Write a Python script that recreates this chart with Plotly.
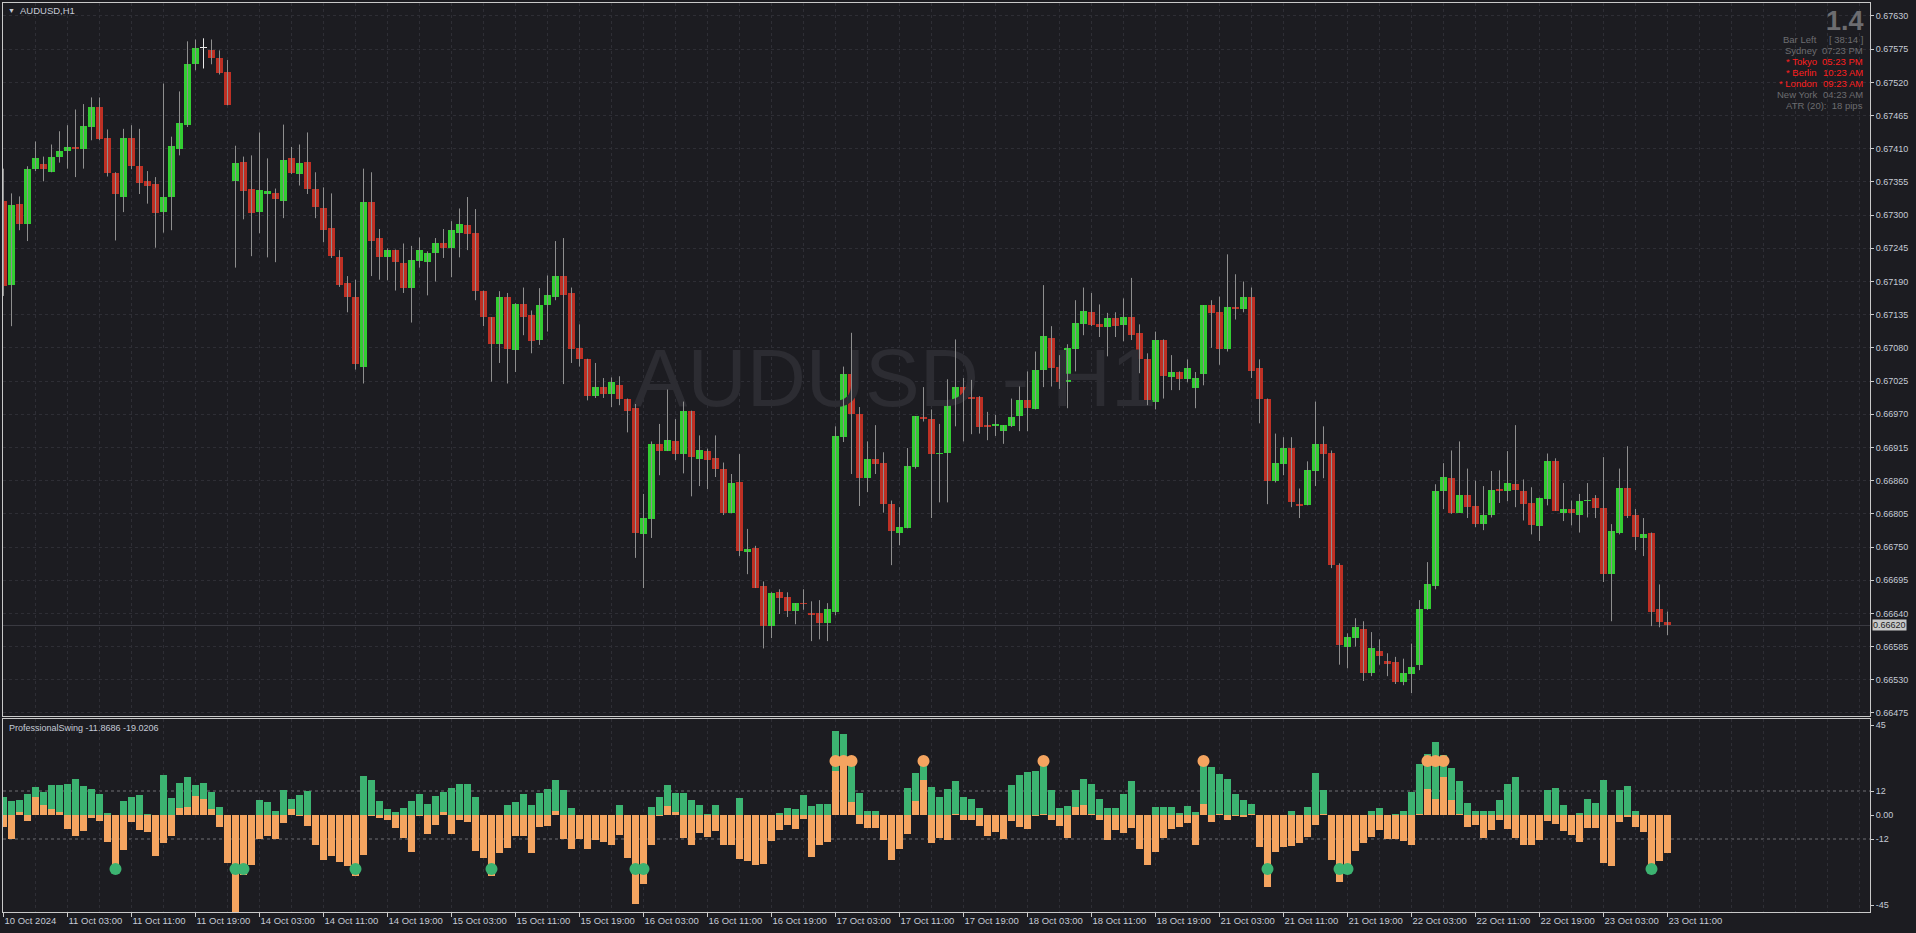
import plotly.graph_objects as go

# ---------------- data ----------------
open_ = [0.67323,0.67185,0.67318,0.67286,0.67376,0.67384,0.67371,0.67396,0.67406,0.67413,
0.67409,0.67446,0.67479,0.67427,0.67369,0.67330,0.67427,0.67382,0.67356,0.67351,
0.67305,0.67330,0.67410,0.67449,0.67550,0.67577,0.67573,0.67561,0.67537,0.67356,
0.67388,0.67343,0.67305,0.67335,0.67336,0.67324,0.67394,0.67368,0.67388,0.67344,
0.67311,0.67278,0.67230,0.67187,0.67165,0.67049,0.67321,0.67262,0.67230,0.67243,
0.67220,0.67180,0.67224,0.67222,0.67238,0.67253,0.67246,0.67271,0.67283,0.67271,
0.67175,0.67131,0.67086,0.67165,0.67076,0.67152,0.67135,0.67093,0.67151,0.67165,
0.67199,0.67171,0.67080,0.67062,0.67001,0.67016,0.67004,0.67018,0.66996,0.66980,
0.66771,0.66796,0.66921,0.66909,0.66925,0.66904,0.66976,0.66896,0.66909,0.66897,
0.66880,0.66806,0.66857,0.66741,0.66748,0.66685,0.66619,0.66675,0.66667,0.66644,
0.66657,0.66641,0.66641,0.66624,0.66643,0.66932,0.67036,0.66971,0.66864,0.66896,
0.66889,0.66821,0.66773,0.66781,0.66882,0.66965,0.66962,0.66904,0.66905,0.66987,
0.67016,0.66998,0.66998,0.66952,0.66950,0.66943,0.66950,0.66967,0.66993,0.66978,
0.67043,0.67096,0.67049,0.67024,0.67078,0.67119,0.67139,0.67119,0.67114,0.67129,
0.67118,0.67131,0.67105,0.67062,0.66990,0.67093,0.67031,0.67040,0.67028,0.67013,
0.67036,0.67151,0.67139,0.67078,0.67147,0.67144,0.67165,0.67046,0.66996,0.66859,
0.66887,0.66914,0.66821,0.66819,0.66876,0.66921,0.66905,0.66721,0.66584,0.66599,
0.66615,0.66541,0.66577,0.66561,0.66559,0.66526,0.66539,0.66555,0.66648,0.66685,
0.66843,0.66864,0.66807,0.66836,0.66818,0.66788,0.66803,0.66846,0.66843,0.66854,
0.66843,0.66823,0.66785,0.66829,0.66892,0.66807,0.66813,0.66803,0.66826,0.66831,
0.66814,0.66705,0.66773,0.66847,0.66803,0.66765,0.66773,0.66647,0.66626]

high = [0.67377,0.67336,0.67331,0.67381,0.67422,0.67397,0.67417,0.67439,0.67449,0.67475,
0.67484,0.67495,0.67495,0.67442,0.67371,0.67443,0.67449,0.67443,0.67373,0.67363,
0.67518,0.67430,0.67505,0.67588,0.67591,0.67593,0.67591,0.67573,0.67557,0.67415,
0.67397,0.67399,0.67437,0.67394,0.67344,0.67450,0.67413,0.67417,0.67437,0.67371,
0.67346,0.67336,0.67242,0.67199,0.67193,0.67377,0.67371,0.67277,0.67245,0.67243,
0.67253,0.67249,0.67263,0.67240,0.67262,0.67277,0.67290,0.67311,0.67330,0.67310,
0.67175,0.67131,0.67174,0.67171,0.67154,0.67180,0.67142,0.67179,0.67200,0.67257,
0.67262,0.67180,0.67119,0.67062,0.67055,0.67030,0.67031,0.67033,0.66996,0.66987,
0.66838,0.66925,0.66954,0.67011,0.66962,0.66991,0.66976,0.66935,0.66913,0.66935,
0.66890,0.66871,0.66904,0.66780,0.66752,0.66693,0.66675,0.66680,0.66675,0.66657,
0.66680,0.66660,0.66662,0.66657,0.66950,0.67049,0.67105,0.66982,0.66925,0.66952,
0.66907,0.66827,0.66816,0.66914,0.66967,0.67015,0.66978,0.66954,0.67028,0.67094,
0.67030,0.67027,0.67000,0.66974,0.66969,0.66952,0.66996,0.67016,0.67041,0.67074,
0.67184,0.67116,0.67068,0.67086,0.67159,0.67180,0.67171,0.67152,0.67138,0.67139,
0.67162,0.67196,0.67119,0.67071,0.67107,0.67094,0.67068,0.67041,0.67061,0.67040,
0.67151,0.67159,0.67165,0.67235,0.67202,0.67190,0.67180,0.67061,0.66996,0.66938,
0.66932,0.66932,0.66847,0.66892,0.66991,0.66950,0.66910,0.66723,0.66607,0.66632,
0.66627,0.66609,0.66597,0.66574,0.66568,0.66565,0.66590,0.66662,0.66725,0.66854,
0.66889,0.66910,0.66925,0.66880,0.66860,0.66851,0.66876,0.66877,0.66909,0.66952,
0.66862,0.66849,0.66832,0.66905,0.66897,0.66856,0.66827,0.66838,0.66856,0.66836,
0.66899,0.66788,0.66880,0.66917,0.66813,0.66798,0.66774,0.66688,0.66643]

low = [0.67166,0.67116,0.67275,0.67257,0.67373,0.67356,0.67371,0.67387,0.67377,0.67363,
0.67377,0.67424,0.67424,0.67364,0.67258,0.67305,0.67376,0.67335,0.67319,0.67246,
0.67271,0.67275,0.67399,0.67446,0.67540,0.67543,0.67550,0.67533,0.67482,0.67213,
0.67293,0.67232,0.67270,0.67230,0.67222,0.67295,0.67368,0.67349,0.67335,0.67295,
0.67255,0.67229,0.67181,0.67139,0.67044,0.67021,0.67199,0.67193,0.67192,0.67175,
0.67171,0.67122,0.67213,0.67167,0.67190,0.67229,0.67197,0.67230,0.67242,0.67159,
0.67116,0.67024,0.67055,0.67021,0.67040,0.67101,0.67071,0.67085,0.67107,0.67159,
0.67020,0.67055,0.67049,0.66993,0.66997,0.66997,0.66982,0.66985,0.66940,0.66732,
0.66682,0.66765,0.66869,0.66909,0.66894,0.66872,0.66834,0.66851,0.66846,0.66866,
0.66803,0.66806,0.66735,0.66705,0.66682,0.66582,0.66599,0.66639,0.66634,0.66622,
0.66646,0.66594,0.66597,0.66594,0.66637,0.66924,0.66871,0.66818,0.66841,0.66871,
0.66807,0.66720,0.66753,0.66781,0.66880,0.66958,0.66798,0.66824,0.66824,0.66950,
0.66925,0.66937,0.66938,0.66927,0.66934,0.66921,0.66949,0.66942,0.66942,0.66978,
0.67015,0.67016,0.67012,0.66980,0.67041,0.67101,0.67116,0.67098,0.67066,0.67098,
0.67091,0.67093,0.67038,0.66985,0.66978,0.66996,0.67010,0.67010,0.67023,0.66980,
0.67018,0.67080,0.67052,0.67074,0.67127,0.67139,0.67030,0.66955,0.66821,0.66857,
0.66869,0.66816,0.66798,0.66819,0.66851,0.66864,0.66715,0.66555,0.66549,0.66585,
0.66528,0.66536,0.66555,0.66536,0.66523,0.66521,0.66508,0.66546,0.66646,0.66680,
0.66813,0.66805,0.66807,0.66798,0.66783,0.66778,0.66799,0.66823,0.66826,0.66816,
0.66794,0.66771,0.66760,0.66819,0.66810,0.66793,0.66786,0.66774,0.66799,0.66798,
0.66692,0.66627,0.66771,0.66798,0.66745,0.66735,0.66619,0.66617,0.66604]

close = [0.67182,0.67316,0.67286,0.67377,0.67394,0.67376,0.67397,0.67407,0.67413,0.67409,
0.67447,0.67479,0.67426,0.67369,0.67335,0.67427,0.67382,0.67353,0.67349,0.67303,
0.67330,0.67415,0.67452,0.67550,0.67577,0.67577,0.67560,0.67535,0.67482,0.67386,
0.67340,0.67303,0.67341,0.67340,0.67326,0.67391,0.67369,0.67386,0.67344,0.67313,
0.67275,0.67232,0.67185,0.67164,0.67053,0.67321,0.67257,0.67230,0.67243,0.67222,
0.67180,0.67225,0.67243,0.67238,0.67253,0.67246,0.67275,0.67285,0.67268,0.67174,
0.67131,0.67086,0.67165,0.67078,0.67152,0.67131,0.67091,0.67151,0.67168,0.67199,
0.67168,0.67078,0.67062,0.67000,0.67016,0.67003,0.67023,0.66995,0.66976,0.66773,
0.66798,0.66921,0.66909,0.66927,0.66904,0.66976,0.66899,0.66910,0.66894,0.66879,
0.66807,0.66856,0.66743,0.66746,0.66682,0.66619,0.66674,0.66666,0.66644,0.66657,
0.66656,0.66637,0.66624,0.66647,0.66934,0.67036,0.66971,0.66864,0.66896,0.66887,
0.66821,0.66777,0.66783,0.66885,0.66967,0.66962,0.66904,0.66905,0.66987,0.67015,
0.66995,0.66995,0.66949,0.66949,0.66954,0.66952,0.66965,0.66993,0.66980,0.67044,
0.67099,0.67046,0.67024,0.67080,0.67122,0.67141,0.67118,0.67114,0.67129,0.67116,
0.67131,0.67101,0.67061,0.66990,0.67093,0.67033,0.67040,0.67028,0.67046,0.67030,
0.67151,0.67138,0.67078,0.67147,0.67144,0.67165,0.67041,0.66995,0.66859,0.66890,
0.66914,0.66824,0.66818,0.66877,0.66921,0.66904,0.66720,0.66588,0.66601,0.66617,
0.66541,0.66582,0.66569,0.66556,0.66526,0.66541,0.66552,0.66648,0.66688,0.66843,
0.66866,0.66806,0.66836,0.66816,0.66788,0.66803,0.66844,0.66843,0.66856,0.66844,
0.66821,0.66786,0.66832,0.66892,0.66810,0.66813,0.66806,0.66826,0.66827,0.66814,
0.66705,0.66777,0.66847,0.66801,0.66766,0.66771,0.66643,0.66626,0.66620]

# ProfessionalSwing indicator: two histogram buffers
swing_green = [9,7,7.5,10.5,14,11.5,15,15,15.7,18,
14.5,13,10.5,1,0,7,9,10,0.5,0,
20,8.5,16,19,15,16,11.5,4,0,0,
0,0,7.5,6.5,2,12.3,8,10,12,0,
0,0,0,0,0,19.5,17.5,7,3,1.5,
3.5,7,10.5,5.5,9.5,11.5,13.5,15.5,15.5,9,
0,0,0,5,6.5,10.5,5,11,13,17.5,
12.5,3.5,0,0,0,0,0,5,0,0,
0,4,9,15,11,11,7.7,5,0.5,5,
0,0,8.3,0,0,0,0,1,3.7,3,
10,4.3,5.7,5.7,42,40.7,27,10.8,2,2,
0,0,0,13.3,21,27,14,8.8,12.8,17,
9.2,7.8,3.3,0,0,0,15.2,20,21.3,21.8,
26.7,12.3,3.7,4.7,12.5,18.2,15.7,8.2,3.3,3.3,
10.7,17.2,0,0,3.8,4.2,4.2,1.2,4.7,1.7,
26.7,23.8,20.7,18.2,10.7,7.7,5.7,0,0,0,
0,2.2,0,4.2,21.2,12.7,0,0,0,0,
0,2.2,3.7,0,0.5,2.2,11.7,25.7,30.7,36.7,
30.2,23.5,17.2,6.2,2.2,2.2,1.8,7.7,15.7,19.2,
0,0,0,12.7,13.7,5,0,1.2,8.2,6.2,
17.7,0,12.3,14.7,2.2,0,0,0,-11.8686]

swing_orange = [-5.8,-12,1.5,-2.8,8.8,5,3,1.5,-7,-10.5,
-8,-1.5,-3,-13.3,-25,-17.5,-3.5,-7.5,-8.5,-20.5,
-14,-10.5,3.5,4,9.5,8,3,-6,-24,-50,
-30,-25,-12,-10.5,-12,-4,3,-0.5,-5.5,-15,
-22.5,-20.5,-23.5,-25.5,-30.5,-20,-0.5,-1.5,-2.5,-6.5,
-11.5,-18.5,-0.5,-9.5,-5,1.5,-9.5,-2.5,-3.5,-18,
-21.5,-30.5,-19,-16.5,-10.5,-10.5,-19,-6,-5.5,2,
-12,-17,-12,-17,-12.3,-13.3,-14.8,-10,-21.7,-44.7,
-34.7,-15,-0.5,4.7,1.3,-11.5,-15,-9,-11,-8,
-15,-15,-22,-23,-25,-24.5,-13,-7.3,-5,-7,
-2,-21,-15,-13.5,22,26,6.7,-4.3,-6.3,-6.3,
-12.7,-22.3,-17.2,-9.7,7.2,17.7,-14,-11.7,-12.7,0.5,
-2.7,-2.7,-5.3,-10.3,-8.3,-11.8,-3,-5.8,-7.2,-0.7,
0.5,-2.7,-5.7,-11.7,3.8,5.2,0.5,-2.7,-12.5,-7.5,
-9,-6.5,-17.2,-25.2,-18.7,-11.7,-7.2,-6.2,-4.2,-15.2,
5.7,-3.7,0.5,-2.7,-0.5,-1,0.5,-16.2,-36,-18.7,
-15.8,-15.3,-14,-11.2,-5,0.5,-22.5,-33.7,-29.5,-18.2,
-14.2,-11.2,-7.3,-12,-12.2,-13,-15.2,0.5,13.2,8.2,
18.8,7.7,0.5,-6.2,-5,-11.7,-7.3,-2.3,-7.2,-11.7,
-15.2,-14.8,-12.3,-3,-4.3,-8.2,-10.2,-13.3,-6.5,-6.3,
-24.2,-25.3,-3.5,-1.2,-6.2,-8.7,-27.5,-23.2,-19.0206]

swing_low_bars = [14, 29, 30, 44, 61, 79, 80, 158, 167, 168, 206]
swing_high_bars = [104, 105, 106, 115, 130, 150, 178, 179, 180]
signal_level = 27

date_labels = ["10 Oct 2024", "11 Oct 03:00", "11 Oct 11:00", "11 Oct 19:00", "14 Oct 03:00",
               "14 Oct 11:00", "14 Oct 19:00", "15 Oct 03:00", "15 Oct 11:00", "15 Oct 19:00",
               "16 Oct 03:00", "16 Oct 11:00", "16 Oct 19:00", "17 Oct 03:00", "17 Oct 11:00",
               "17 Oct 19:00", "18 Oct 03:00", "18 Oct 11:00", "18 Oct 19:00", "21 Oct 03:00",
               "21 Oct 11:00", "21 Oct 19:00", "22 Oct 03:00", "22 Oct 11:00", "22 Oct 19:00",
               "23 Oct 03:00", "23 Oct 11:00"]
bars_per_label = 8

price_ticks = [0.67630, 0.67575, 0.67520, 0.67465, 0.67410, 0.67355, 0.67300, 0.67245,
               0.67190, 0.67135, 0.67080, 0.67025, 0.66970, 0.66915, 0.66860, 0.66805,
               0.66750, 0.66695, 0.66640, 0.66585, 0.66530, 0.66475]
swing_ticks = [45, 12, 0, -12, -45]
swing_tick_text = ["45", "12", "0.00", "-12", "-45"]
swing_levels = [12, -12]

last_price = 0.66620
symbol_label = "AUDUSD,H1"
watermark = "AUDUSD - H1"
indicator_label = "ProfessionalSwing -11.8686 -19.0206"
spread_text = "1.4"
info_names = ["Bar Left", "Sydney", "* Tokyo", "* Berlin", "* London", "New York"]
info_values = ["[ 38:14 ]", "07:23 PM", "05:23 PM", "10:23 AM", "09:23 AM", "04:23 AM"]
info_active = [False, False, True, True, True, False]
atr_text = "ATR (20):  18 pips"

# ---------------- styles ----------------
BG = "#1c1c21"
FRAME = "#c9c9c9"
GRID = "#2e2e35"
TXT = "#c5cbd6"
BULL = "#32cd32"
BEAR = "#be3024"
DOJI = "#e8e8e8"
WICK = "#8e8e8e"
SW_G = "#3cb371"
SW_O = "#f4a460"
FONT = "Liberation Sans"

n = len(close)
idx = list(range(n))

fig = go.Figure()

# watermark (drawn first so candles cover it)
fig.add_trace(go.Scatter(x=[111.4], y=[0.67018], mode="text", text=[watermark],
                         textfont=dict(family=FONT, size=82, color="#2c2c32"),
                         hoverinfo="skip", xaxis="x", yaxis="y"))

# bid line
fig.add_shape(type="line", xref="x domain", yref="y", x0=0, x1=1, y0=last_price, y1=last_price,
              line=dict(color="#3c3c42", width=1), layer="below")

# wicks
for doji in (False, True):
    wx, wy = [], []
    for i in idx:
        if (open_[i] == close[i]) != doji:
            continue
        wx += [i, i, None]
        wy += [low[i], high[i], None]
    fig.add_trace(go.Scatter(x=wx, y=wy, mode="lines", line=dict(color=DOJI if doji else WICK, width=1),
                             hoverinfo="skip", xaxis="x", yaxis="y"))

# bodies
base = [min(o, c) for o, c in zip(open_, close)]
height = [max(abs(c - o), 0.000012) for o, c in zip(open_, close)]
colors = [DOJI if c == o else (BULL if c > o else BEAR) for o, c in zip(open_, close)]
fig.add_trace(go.Bar(x=idx, y=height, base=base, width=0.875, marker=dict(color=colors, line=dict(width=0)),
                     hoverinfo="skip", xaxis="x", yaxis="y"))

# indicator histograms
fig.add_trace(go.Bar(x=idx, y=swing_green, width=0.875, marker=dict(color=SW_G, line=dict(width=0)),
                     hoverinfo="skip", xaxis="x2", yaxis="y2"))
fig.add_trace(go.Bar(x=idx, y=swing_orange, width=0.875, marker=dict(color=SW_O, line=dict(width=0)),
                     hoverinfo="skip", xaxis="x2", yaxis="y2"))
fig.add_trace(go.Scatter(x=swing_low_bars, y=[-signal_level] * len(swing_low_bars), mode="markers",
                         marker=dict(color=SW_G, size=12, line=dict(width=0)), hoverinfo="skip",
                         xaxis="x2", yaxis="y2"))
fig.add_trace(go.Scatter(x=swing_high_bars, y=[signal_level] * len(swing_high_bars), mode="markers",
                         marker=dict(color=SW_O, size=12, line=dict(width=0)), hoverinfo="skip",
                         xaxis="x2", yaxis="y2"))

for lv in swing_levels:
    fig.add_shape(type="line", xref="x2 domain", yref="y2", x0=0, x1=1, y0=lv, y1=lv,
                  line=dict(color="#6e6e74", width=1, dash="3px,3px"), layer="below")

# ---------------- axes / layout ----------------
W, H = 1916, 933
ml, mr, mt, mb = 3, 46, 3, 21
plot_h = H - mt - mb
main_dom = [(912 - 716) / plot_h, 1.0]
ind_dom = [0.0, (912 - 719) / plot_h]
xr = [-0.0625, -0.0625 + (W - ml - mr) / 8.0]

tickvals_x = [k * bars_per_label for k in range(len(date_labels))]

common_x = dict(range=xr, showline=True, mirror=True, linecolor=FRAME, linewidth=1, zeroline=False,
                tickvals=tickvals_x, showgrid=True, gridcolor=GRID, griddash="3px,3px", gridwidth=1,
                minor=dict(tick0=0, dtick=4, showgrid=True, gridcolor=GRID, griddash="3px,3px"),
                fixedrange=True, automargin=False, tickangle=0)

fig.update_layout(
    width=W, height=H, margin=dict(l=ml, r=mr, t=mt, b=mb, autoexpand=False),
    paper_bgcolor=BG, plot_bgcolor=BG, showlegend=False,
    barmode="overlay", bargap=0, hovermode=False,
    font=dict(family=FONT, size=9, color=TXT),
    xaxis=dict(domain=[0, 1], anchor="y", showticklabels=False, ticks="", **common_x),
    xaxis2=dict(domain=[0, 1], anchor="y2", ticktext=date_labels, showticklabels=True, ticks="outside",
                ticklen=4, tickcolor=FRAME, ticklabelposition="outside right",
                tickfont=dict(family=FONT, size=9.5, color=TXT), **common_x),
    yaxis=dict(domain=main_dom, anchor="x", side="right", range=[0.664700, 0.676515],
               tickvals=price_ticks, ticktext=[f"{v:.5f}" for v in price_ticks],
               ticks="outside", ticklen=3, tickcolor=FRAME, showline=True, mirror=True,
               linecolor=FRAME, linewidth=1, showgrid=True, gridcolor=GRID, griddash="3px,3px",
               zeroline=False, automargin=False, fixedrange=True,
               tickfont=dict(family=FONT, size=9, color=TXT)),
    yaxis2=dict(domain=ind_dom, anchor="x2", side="right", range=[-48.5, 48],
                tickvals=swing_ticks, ticktext=swing_tick_text, ticks="outside", ticklen=3,
                tickcolor=FRAME, showline=True, mirror=True, linecolor=FRAME, linewidth=1,
                showgrid=False, zeroline=False, automargin=False, fixedrange=True,
                tickfont=dict(family=FONT, size=9, color=TXT)),
)

ann = []
# last price box
ann.append(dict(xref="paper", yref="y", x=1, y=last_price, xanchor="left", yanchor="middle", xshift=2,
                text=f"{last_price:.5f}", showarrow=False, bgcolor="#c8c8c8", borderpad=0,
                font=dict(family=FONT, size=9, color="#1c1c21")))
# symbol label
ann.append(dict(xref="paper", yref="paper", x=0, y=1, xanchor="left", yanchor="middle", xshift=3, yshift=-7,
                text="▼", showarrow=False, font=dict(family=FONT, size=7, color=TXT)))
ann.append(dict(xref="paper", yref="paper", x=0, y=1, xanchor="left", yanchor="middle", xshift=15, yshift=-7,
                text=symbol_label, showarrow=False, font=dict(family=FONT, size=9.5, color=TXT)))
# indicator label
ann.append(dict(xref="paper", yref="paper", x=0, y=ind_dom[1], xanchor="left", yanchor="middle", xshift=4,
                yshift=-9, text=indicator_label, showarrow=False, font=dict(family=FONT, size=9, color=TXT)))
# spread
ann.append(dict(xref="paper", yref="paper", x=1, y=1, xanchor="right", yanchor="middle", xshift=-4,
                yshift=-18, text=f"<b>{spread_text}</b>", showarrow=False,
                font=dict(family=FONT, size=27, color="#6c6c70")))
row_y = [36, 47, 58, 69, 80, 91]
for k, (nm, vl, act) in enumerate(zip(info_names, info_values, info_active)):
    col = "#ff1f1f" if act else "#6c6c70"
    ann.append(dict(xref="paper", yref="paper", x=1, y=1, xanchor="right", yanchor="middle", xshift=-51,
                    yshift=-row_y[k], text=nm, showarrow=False, font=dict(family=FONT, size=9.5, color=col)))
    ann.append(dict(xref="paper", yref="paper", x=1, y=1, xanchor="right", yanchor="middle", xshift=-5,
                    yshift=-row_y[k], text=vl, showarrow=False, font=dict(family=FONT, size=9.5, color=col)))
ann.append(dict(xref="paper", yref="paper", x=1, y=1, xanchor="right", yanchor="middle", xshift=-5,
                yshift=-102, text=atr_text, showarrow=False, font=dict(family=FONT, size=9.5, color="#6c6c70")))
fig.update_layout(annotations=ann)

fig.write_html("out.html",
               config={"displayModeBar": False, "staticPlot": True},
               post_script="document.body.style.margin='0';document.body.style.overflow='hidden';"
                           "document.documentElement.style.background='#1c1c21';")
